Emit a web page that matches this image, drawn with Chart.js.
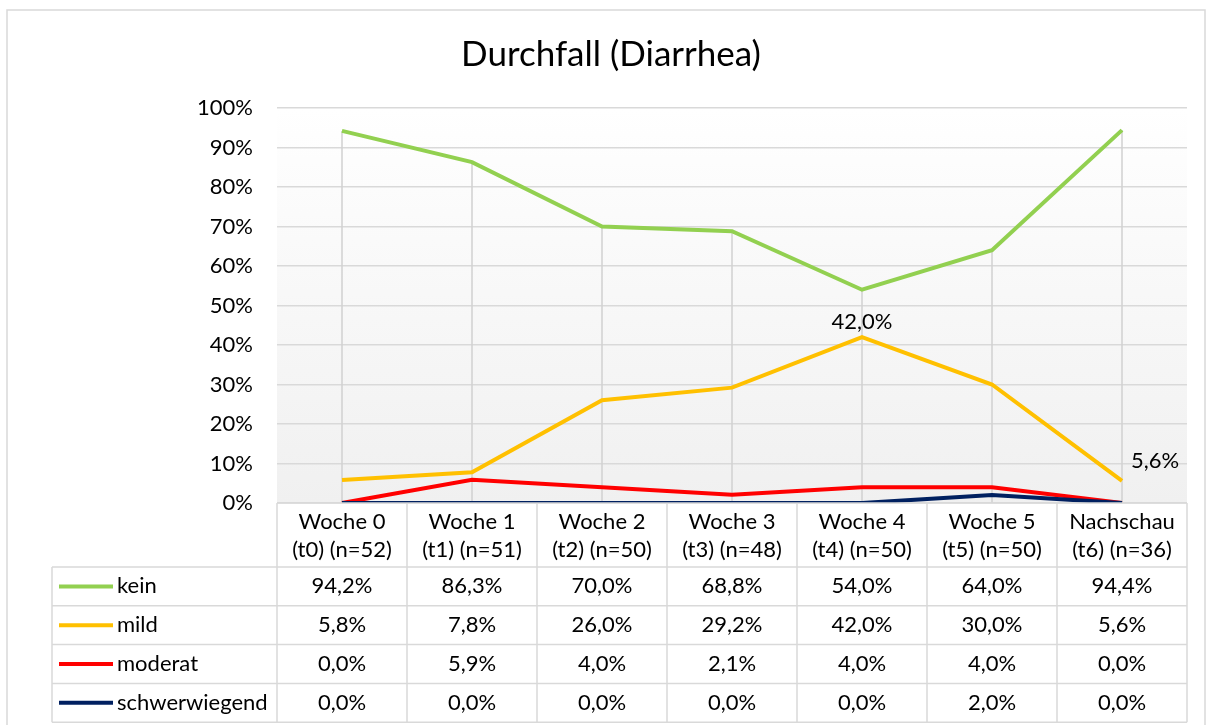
<!DOCTYPE html>
<html>
<head>
<meta charset="utf-8">
<script src="https://cdn.jsdelivr.net/npm/chart.js@4"></script>
<style>
  html, body { margin: 0; padding: 0; background: #fff; }
  #wrap { width: 1213px; height: 725px; }
</style>
</head>
<body>
<div id="wrap"><canvas id="chart"></canvas></div>
<script>
// categories (two text lines each)
const weeks = ["Woche 0", "Woche 1", "Woche 2", "Woche 3", "Woche 4", "Woche 5", "Nachschau"];
const timepoints = ["(t0) (n=52)", "(t1) (n=51)", "(t2) (n=50)", "(t3) (n=48)", "(t4) (n=50)", "(t5) (n=50)", "(t6) (n=36)"];

// series values in %
const kein = [94.2, 86.3, 70.0, 68.8, 54.0, 64.0, 94.4];
const mild = [5.8, 7.8, 26.0, 29.2, 42.0, 30.0, 5.6];
const moderat = [0.0, 5.9, 4.0, 2.1, 4.0, 4.0, 0.0];
const schwerwiegend = [0.0, 0.0, 0.0, 0.0, 0.0, 2.0, 0.0];

const seriesNames = ["kein", "mild", "moderat", "schwerwiegend"];
const seriesColors = ["#92d050", "#ffc000", "#ff0000", "#002060"];

// y axis ticks
const yMax = 100;
const yStep = 10;

const FONT = "Lato, sans-serif";
const FS = 22;
const GRID = "#d9d9d9";

function pct(v) {
  return v.toFixed(1).replace(".", ",") + "%";
}

// frame + plot background gradient
const bgPlugin = {
  id: "bg",
  beforeDraw(chart) {
    const { ctx, chartArea: a } = chart;
    ctx.save();
    ctx.fillStyle = "#fff";
    ctx.fillRect(0, 0, chart.width, chart.height);
    ctx.strokeStyle = GRID;
    ctx.lineWidth = 1.5;
    ctx.strokeRect(7, 10, 1198, 730);
    const g = ctx.createLinearGradient(0, a.top, 0, a.bottom);
    g.addColorStop(0, "#ffffff");
    g.addColorStop(1, "#f0f0f0");
    ctx.fillStyle = g;
    ctx.fillRect(a.left, a.top, a.right - a.left, a.bottom - a.top);
    ctx.fillStyle = "#000";
    ctx.font = "35px " + FONT;
    ctx.textAlign = "center";
    ctx.textBaseline = "middle";
    ctx.fillText("Durchfall (Diarrhea)", 611, 55);
    ctx.restore();
  }
};

// Excel style drop lines from highest value down to the axis
const dropLines = {
  id: "dropLines",
  beforeDatasetsDraw(chart) {
    const { ctx, scales: { x, y } } = chart;
    ctx.save();
    ctx.strokeStyle = "#d0d0d0";
    ctx.lineWidth = 1.5;
    chart.data.labels.forEach((_, i) => {
      const top = Math.max(...chart.data.datasets.map(d => d.data[i]));
      const px = x.getPixelForValue(i);
      ctx.beginPath();
      ctx.moveTo(px, y.getPixelForValue(top));
      ctx.lineTo(px, y.getPixelForValue(0));
      ctx.stroke();
    });
    ctx.restore();
  }
};

// data table below the plot + data labels
const dataTable = {
  id: "dataTable",
  afterDraw(chart) {
    const { ctx, chartArea: a, scales: { x, y } } = chart;
    const sets = chart.data.datasets;
    const colW = (a.right - a.left) / chart.data.labels.length;
    const headTop = a.bottom;
    const headBot = headTop + 64;
    const rowH = 38.8;
    const tableLeft = 52;
    const tableBot = headBot + rowH * sets.length;

    ctx.save();
    ctx.strokeStyle = GRID;
    ctx.lineWidth = 1.5;
    // horizontal rules
    for (let r = 0; r <= sets.length; r++) {
      const yy = headBot + r * rowH;
      ctx.beginPath();
      ctx.moveTo(tableLeft, yy);
      ctx.lineTo(a.right, yy);
      ctx.stroke();
    }
    ctx.beginPath();
    ctx.moveTo(a.left, headTop);
    ctx.lineTo(a.right, headTop);
    ctx.stroke();
    // vertical rules
    for (let c = 0; c <= chart.data.labels.length; c++) {
      const xx = a.left + c * colW;
      ctx.beginPath();
      ctx.moveTo(xx, headTop);
      ctx.lineTo(xx, tableBot);
      ctx.stroke();
    }
    ctx.beginPath();
    ctx.moveTo(tableLeft, headBot);
    ctx.lineTo(tableLeft, tableBot);
    ctx.stroke();

    ctx.fillStyle = "#000";
    ctx.font = FS + "px " + FONT;
    ctx.textBaseline = "middle";
    ctx.textAlign = "center";
    chart.data.labels.forEach((lab, i) => {
      const cx = x.getPixelForValue(i);
      ctx.fillText(lab[0], cx, headTop + 19);
      ctx.fillText(lab[1], cx, headTop + 47);
    });

    sets.forEach((ds, r) => {
      const cy = headBot + r * rowH + rowH / 2;
      ctx.strokeStyle = ds.borderColor;
      ctx.lineWidth = 4;
      ctx.beginPath();
      ctx.moveTo(59, cy);
      ctx.lineTo(113, cy);
      ctx.stroke();
      ctx.fillStyle = "#000";
      ctx.textAlign = "left";
      ctx.fillText(ds.label, 117, cy);
      ctx.textAlign = "center";
      ds.data.forEach((v, i) => {
        ctx.fillText(pct(v), x.getPixelForValue(i), cy);
      });
    });

    // data labels on the "mild" series
    const m = sets[1].data;
    ctx.textAlign = "center";
    ctx.fillText(pct(m[4]), x.getPixelForValue(4), y.getPixelForValue(m[4]) - 15);
    ctx.textAlign = "left";
    ctx.fillText(pct(m[6]), x.getPixelForValue(6) + 9, y.getPixelForValue(m[6]) - 20);
    ctx.restore();
  }
};

const seriesData = [kein, mild, moderat, schwerwiegend];

new Chart(document.getElementById("chart"), {
  type: "line",
  data: {
    labels: weeks.map((w, i) => [w, timepoints[i]]),
    datasets: seriesData.map((d, i) => ({
      label: seriesNames[i],
      data: d,
      borderColor: seriesColors[i],
      backgroundColor: seriesColors[i],
      borderWidth: 4,
      pointRadius: 0,
      tension: 0,
      order: seriesData.length - i
    }))
  },
  options: {
    responsive: true,
    maintainAspectRatio: false,
    animation: false,
    layout: { padding: { left: 192, right: 26, top: 108, bottom: 222 } },
    plugins: {
      legend: { display: false },
      title: { display: false },
      tooltip: { enabled: false }
    },
    scales: {
      x: {
        offset: true,
        grid: { display: false },
        border: { display: false },
        ticks: { display: false },
        afterFit(s) { s.height = 0; }
      },
      y: {
        min: 0,
        max: yMax,
        afterFit(s) { s.width = 85; },
        border: { display: false },
        grid: { color: GRID, lineWidth: 1.5, drawTicks: false },
        ticks: {
          stepSize: yStep,
          padding: 24,
          color: "#000",
          font: { family: FONT, size: FS },
          callback: v => v + "%"
        }
      }
    }
  },
  plugins: [bgPlugin, dropLines, dataTable]
});
</script>
</body>
</html>
